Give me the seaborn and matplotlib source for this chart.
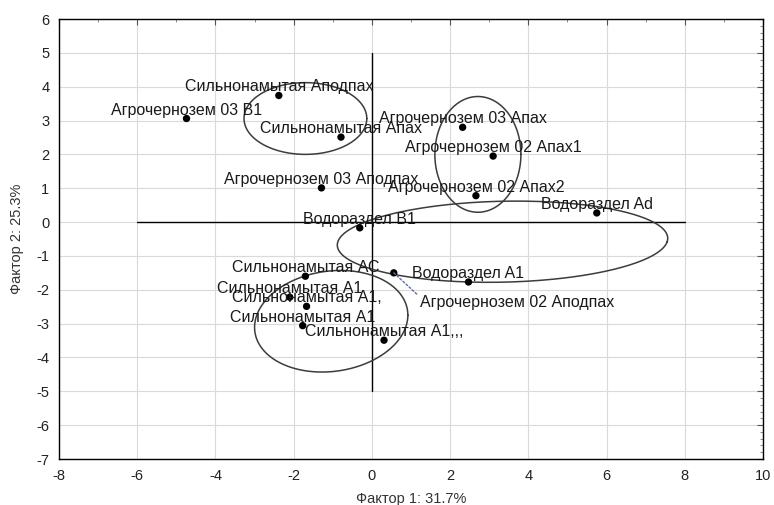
import numpy as np
import pandas as pd
import matplotlib
matplotlib.use("Agg")
import matplotlib.pyplot as plt
import seaborn as sns

# Factor scores of the soil samples
names = [
    "Агрочернозем 03 B1",
    "Сильнонамытая Аподпах",
    "Сильнонамытая Апах",
    "Агрочернозем 03 Аподпах",
    "Агрочернозем 03 Апах",
    "Агрочернозем 02 Апах1",
    "Агрочернозем 02 Апах2",
    "Водораздел Ad",
    "Водораздел B1",
    "Водораздел A1",
    "Агрочернозем 02 Аподпах",
    "Сильнонамытая АС",
    "Сильнонамытая А1",
    "Сильнонамытая А1,",
    "Сильнонамытая А1",
    "Сильнонамытая А1,,,",
]
factor1 = [-4.74, -2.38, -0.79, -1.29, 2.32, 3.10, 2.66, 5.75,
           -0.31, 2.47, 0.56, -1.70, -2.10, -1.67, -1.77, 0.31]
factor2 = [3.06, 3.74, 2.51, 1.01, 2.80, 1.95, 0.78, 0.27,
           -0.17, -1.77, -1.50, -1.60, -2.22, -2.49, -3.06, -3.49]

# Group outlines: centre, semi-axes and skew terms (data units)
ell_cx = [-1.70, 2.71, 3.34, -1.04]
ell_cy = [3.06, 2.00, -0.58, -2.93]
ell_ax = [1.57, 1.10, 4.21, 1.96]
ell_ay = [1.06, 1.71, 1.20, 1.49]
ell_sx = [0.0, 0.0, 0.35, 0.0]
ell_sy = [0.0, 0.0, 0.0, 0.18]

x_ticks = list(range(-8, 11, 2))
y_ticks = list(range(-7, 7, 1))

df = pd.DataFrame({"f1": factor1, "f2": factor2, "name": names})

sns.set_style("white")
plt.rcParams["font.family"] = ["Liberation Sans", "DejaVu Sans"]
plt.rcParams["axes.unicode_minus"] = False

fig = plt.figure(figsize=(7.74, 5.05), dpi=100)
ax = fig.add_axes([59 / 774, 46 / 505, 704 / 774, 440 / 505])

ax.set_xlim(-8, 10)
ax.set_ylim(-7, 6)
ax.set_xticks(x_ticks)
ax.set_yticks(y_ticks)
ax.set_xticks(np.arange(-8, 10.01, 1), minor=True)
ax.set_yticks(np.arange(-7, 6.01, 0.2), minor=True)
ax.grid(True, which="major", color="#dadada", linewidth=0.8)
ax.set_axisbelow(True)

# Origin cross
ax.plot([-6, 8], [0, 0], color="black", linewidth=1.0, zorder=2)
ax.plot([0, 0], [-5, 5], color="black", linewidth=1.0, zorder=2)

# Group ellipses
t = np.linspace(0, 2 * np.pi, 300)
for cx, cy, axx, ayy, sx, sy in zip(ell_cx, ell_cy, ell_ax, ell_ay, ell_sx, ell_sy):
    ex = cx + axx * np.cos(t) + sx * np.sin(t)
    ey = cy + ayy * np.sin(t) + sy * np.cos(t)
    ax.plot(ex, ey, color="#3c3c3c", linewidth=1.1, zorder=3)

sns.scatterplot(data=df, x="f1", y="f2", ax=ax, color="black", s=28,
                edgecolor="none", zorder=5, legend=False)

for nm, x, y in zip(names, factor1, factor2):
    if nm == "Агрочернозем 02 Аподпах":
        ax.annotate(nm, xy=(x, y), xytext=(1.23, -2.37), textcoords="data",
                    ha="left", va="center", fontsize=11.5, color="#1a1a1a",
                    zorder=6,
                    arrowprops=dict(arrowstyle="-", linestyle=(0, (1.5, 1.5)),
                                    color="#5b6bb5", linewidth=1.0,
                                    shrinkA=0, shrinkB=0,
                                    relpos=(0, 0.85)))
    else:
        ax.annotate(nm, xy=(x, y), xytext=(0, 8.5), textcoords="offset pixels",
                    ha="center", va="center", fontsize=11.5, color="#1a1a1a",
                    zorder=6)

for side in ["left", "right", "top", "bottom"]:
    ax.spines[side].set_color("black")
    ax.spines[side].set_linewidth(1.0)

ax.tick_params(which="major", direction="in", length=4, width=0.8,
               color="#555555", top=True, right=True,
               labelsize=10.5, labelcolor="#222222", pad=7)
ax.tick_params(which="minor", direction="in", length=2.5, width=0.6,
               color="#777777", top=True, right=True)

ax.set_xlabel("Фактор 1: 31.7%", fontsize=10.5, color="#333333", labelpad=7)
ax.set_ylabel("Фактор 2: 25.3%", fontsize=10.5, color="#333333", labelpad=9)

fig.savefig("out.png", dpi=100)
